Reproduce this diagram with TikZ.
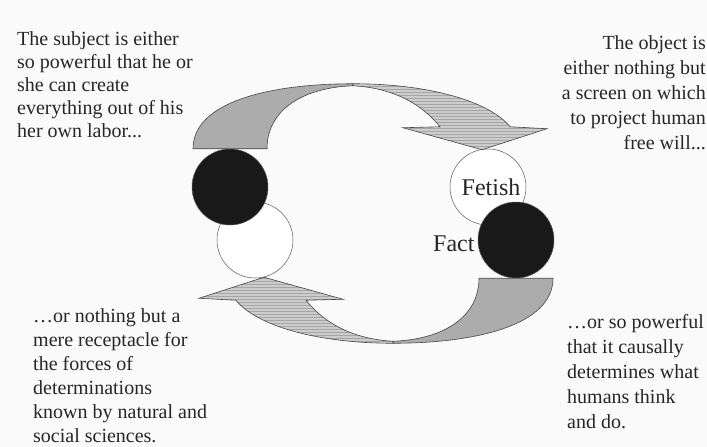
\documentclass[tikz,border=0pt]{standalone}
\usepackage{fontspec}
\setmainfont{Liberation Serif}
\usetikzlibrary{positioning, patterns}
\tikzset{
  ball/.style={circle, draw=gray!70!black, line width=0.5pt, minimum size=76pt, inner sep=0pt},
  full/.style={ball, fill=black!90},
  hollow/.style={ball, fill=white},
  say/.style={inner sep=0pt, font=\fontsize{20}{#1}\selectfont, text=black!85},
  big/.style={font=\fontsize{24}{28}\selectfont, text=black!85},
  band/.style={draw=gray!55!black, line width=0.6pt},
  bendarrow/.pic={
    % back half of the band
    \path[band, fill=gray!65] (-37,0) .. controls (-37,-47) and (40,-65) .. (123,-65)
      -- (123,-63) .. controls (70,-61) and (37,-37) .. (37,0) -- cycle;
    % front half with the head
    \path[band, preaction={fill=gray!40}, pattern=horizontal lines, pattern color=gray!70]
      (123,-65) .. controls (200,-65) and (260,-47) .. (280,-22)
      -- (317,-20) -- (252,1) -- (173,-21) -- (210,-22)
      .. controls (190,-47) and (160,-61) .. (123,-63) -- cycle;
  },
}

\begin{document}
\begin{tikzpicture}[x=1pt, y=-1pt]
  \useasboundingbox[fill=gray!4] (0,0) rectangle (707,447);

  \node[hollow] (subjempty) at (255,240) {};
  \node[full] (subjfull) at (230,187) {};
  \node[hollow, big] (fetish) at (488,187) {\hspace{6pt}Fetish};
  \node[full] (fact) at (516,240) {};
  \node[big, inner sep=0pt, left=3pt of fact.west, yshift=-4pt] (factlabel) {Fact};

  \pic at (subjfull.north) {bendarrow};
  \pic[rotate=180] at (fact.south) {bendarrow};

  % base anchor sits on the last line
  \node[say=23, align=left, anchor=base west] (subject) at (17,137)
    {The subject is either\\so powerful that he or\\she can create\\everything out of his\\her own labor...};
  \node[say=25, align=right, anchor=base east] (object) at (706,149)
    {The object is\\either nothing but\\a screen on which\\to project human\\free will...};
  \node[say=24, align=left, anchor=base west] (receptacle) at (33,442)
    {…or nothing but a\\mere receptacle for\\the forces of\\determinations\\known by natural and\\social sciences.};
  \node[say=25, align=left, anchor=base west] (powerful) at (567,428)
    {…or so powerful\\that it causally\\determines what\\humans think\\and do.};
\end{tikzpicture}
\end{document}
